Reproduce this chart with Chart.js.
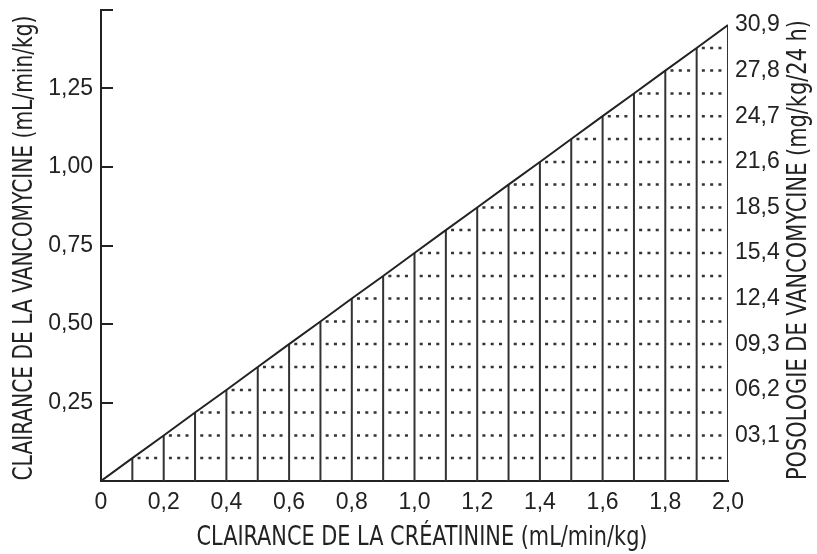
<!DOCTYPE html>
<html>
<head>
<meta charset="utf-8">
<script src="https://cdn.jsdelivr.net/npm/chart.js@4/dist/chart.umd.min.js"></script>
<style>
  html, body { margin: 0; padding: 0; background: #fff; }
  #wrap { width: 817px; height: 554px; }
</style>
</head>
<body>
<div id="wrap"><canvas id="grafico" width="817" height="554"></canvas></div>
<script>
// clairance de la créatinine (axe x) et clairance de la vancomycine (axe gauche)
const creat = [0, 0.1, 0.2, 0.3, 0.4, 0.5, 0.6, 0.7, 0.8, 0.9, 1.0,
  1.1, 1.2, 1.3, 1.4, 1.5, 1.6, 1.7, 1.8, 1.9, 2.0];
const vanco = [0, 0.073, 0.145, 0.218, 0.290, 0.363, 0.436, 0.508, 0.581, 0.653, 0.726,
  0.799, 0.871, 0.944, 1.016, 1.089, 1.162, 1.234, 1.307, 1.379, 1.452];

// posologie (axe droit)
const doseTicks = [3.09, 6.18, 9.27, 12.36, 15.45, 18.54, 21.63, 24.72, 27.81, 30.9];
const doseLabels = ["03,1", "06,2", "09,3", "12,4", "15,4", "18,5", "21,6", "24,7", "27,8", "30,9"];

const xLabels = ["0", "0,2", "0,4", "0,6", "0,8", "1,0", "1,2", "1,4", "1,6", "1,8", "2,0"];
const yLabels = ["", "0,25", "0,50", "0,75", "1,00", "1,25", ""];

const titreX = "CLAIRANCE DE LA CRÉATININE (mL/min/kg)";
const titreY = "CLAIRANCE DE LA VANCOMYCINE (mL/min/kg)";
const titreY2 = "POSOLOGIE DE VANCOMYCINE (mg/kg/24 h)";

const INK = "#222";
const tickFont = { family: "'Liberation Sans', Arial, sans-serif", size: 23 };
const titleFont = "26px 'Liberation Sans Narrow', 'DejaVu Sans Condensed', sans-serif";

// ---- datasets
let datasets = [];

datasets.push({
  data: creat.map((x, i) => ({ x: x, y: vanco[i] })),
  borderColor: INK, borderWidth: 2, pointRadius: 0
});

let barres = [];
for (let j = 1; j < creat.length; j++) {
  barres.push({ x: creat[j], y: 0 }, { x: creat[j], y: vanco[j] }, { x: creat[j], y: null });
}
datasets.push({
  data: barres, borderColor: "#333", borderWidth: 2, pointRadius: 0, spanGaps: false
});

for (let k = 1; k < creat.length - 1; k++) {
  datasets.push({
    pointille: true,
    data: [{ x: creat[k], y: vanco[k] }, { x: creat[creat.length - 1], y: vanco[k] }],
    borderColor: "#333", borderWidth: 2.5, pointRadius: 0
  });
}

function texte(c, str, x, y, larg, rot) {
  c.save();
  c.translate(x, y);
  if (rot) c.rotate(rot);
  const w = c.measureText(str).width;
  c.scale(larg / w, 1);
  c.fillText(str, 0, 0);
  c.restore();
}

// trois points par case, calés sur la largeur d'une case
const pointilles = {
  id: "pointilles",
  beforeDatasetsDraw(chart) {
    const s = chart.scales.x;
    const w = s.getPixelForValue(creat[1]) - s.getPixelForValue(creat[0]);
    chart.data.datasets.forEach((ds, i) => {
      if (!ds.pointille) return;
      const opts = chart.getDatasetMeta(i).dataset.options;
      opts.borderDash = [3, 5.3, 3, 5.3, 3, w - 19.6];
      opts.borderDashOffset = w - 5.2;
    });
  }
};

// ---- petits traits intérieurs de l'axe gauche + titres
const extras = {
  id: "extras",
  afterDraw(chart) {
    const c = chart.ctx;
    const y = chart.scales.y;
    const x0 = chart.chartArea.left;
    c.save();
    c.strokeStyle = INK;
    c.lineWidth = 2;
    y.ticks.forEach(t => {
      if (t.value <= 0) return;
      const py = Math.round(y.getPixelForValue(t.value));
      c.beginPath();
      c.moveTo(x0, py);
      c.lineTo(x0 + 12, py);
      c.stroke();
    });

    c.fillStyle = INK;
    c.font = titleFont;
    c.textAlign = "center";
    c.textBaseline = "middle";
    texte(c, titreX, 422, 538, 451, 0);
    texte(c, titreY, 25, 248, 465, -Math.PI / 2);
    texte(c, titreY2, 799, 250, 460, -Math.PI / 2);
    c.restore();
  }
};

const sansMarge = s => { s.paddingTop = 0; s.paddingBottom = 0; s.paddingLeft = 0; s.paddingRight = 0; };

new Chart(document.getElementById("grafico"), {
  type: "scatter",
  data: { datasets: datasets },
  options: {
    responsive: false,
    animation: false,
    showLine: true,
    layout: { padding: { top: 10, left: 0, right: 0, bottom: 0 } },
    plugins: { legend: { display: false }, tooltip: { enabled: false } },
    scales: {
      x: {
        type: "linear", min: 0, max: 2,
        grid: { drawOnChartArea: false, drawTicks: false },
        border: { color: INK, width: 2 },
        ticks: {
          stepSize: 0.2, color: INK, font: tickFont, padding: 8,
          callback: (v, i) => xLabels[i]
        },
        afterFit: s => { s.height = 73; sansMarge(s); }
      },
      y: {
        type: "linear", position: "left", min: 0, max: 1.5,
        grid: { drawOnChartArea: false, drawTicks: false },
        border: { color: INK, width: 2 },
        ticks: {
          stepSize: 0.25, color: INK, font: tickFont, padding: 8,
          callback: (v, i) => yLabels[i]
        },
        afterFit: s => { s.width = 101; sansMarge(s); }
      },
      y2: {
        type: "linear", position: "right", min: 0,
        max: 1.5 * doseTicks[doseTicks.length - 1] / vanco[vanco.length - 1],
        grid: { drawOnChartArea: false, drawTicks: false },
        border: { display: false },
        afterBuildTicks: s => { s.ticks = doseTicks.map(v => ({ value: v })); },
        ticks: {
          color: INK, font: tickFont, padding: 7,
          callback: (v, i) => doseLabels[i]
        },
        afterFit: s => { s.width = 89; sansMarge(s); }
      }
    }
  },
  plugins: [pointilles, extras]
});
</script>
</body>
</html>
